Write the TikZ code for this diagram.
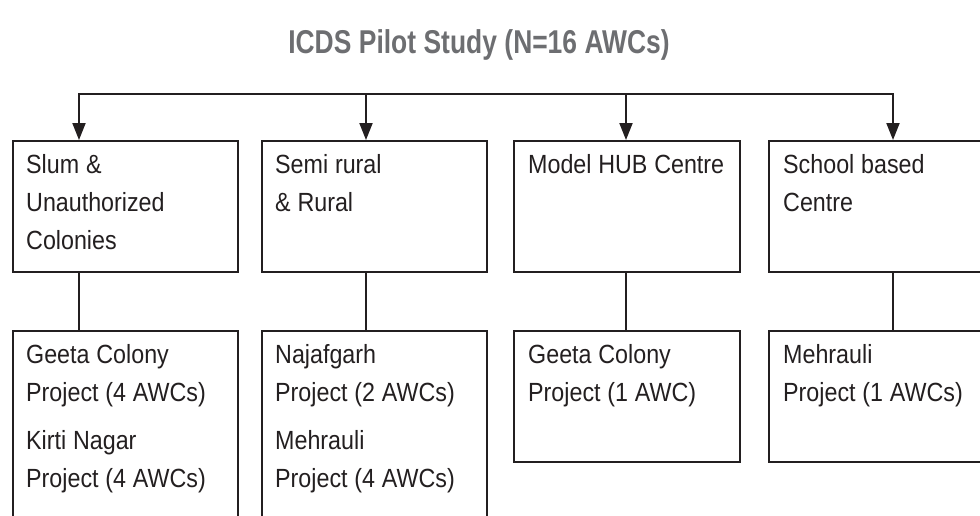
\documentclass[tikz,border=0pt]{standalone}
\usepackage{fontspec}
\setmainfont{Liberation Sans}[FakeStretch=0.885]
\newfontfamily\titlefont{Liberation Sans}[FakeStretch=0.8]
\usetikzlibrary{arrows.meta}
\definecolor{ink}{HTML}{231F20}
\definecolor{titlegray}{HTML}{6D6E71}
\newcommand\boxtextfont{\fontsize{26.3}{38}\selectfont}
\newcommand\tightspaces{\spaceskip 6.8pt plus 2pt minus 1pt\relax}
\newcommand\ttltextfont{\titlefont\bfseries\fontsize{33}{38}\selectfont\spaceskip 7.5pt\relax}
\begin{document}
\begin{tikzpicture}[x=1pt,y=-1pt,
  boxst/.style={draw=ink, line width=2.2pt, inner sep=0pt, anchor=north west, minimum width=#1},
  upper/.style={boxst=#1, minimum height=131pt},
  lower/.style={boxst=#1, minimum height=131pt},
  tall/.style={boxst=#1, minimum height=260pt},
  txt/.style={anchor=base west, inner sep=0pt, text=ink, text width=220pt, align=flush left,
    font=\boxtextfont, execute at begin node=\tightspaces},
  ttl/.style={anchor=base, inner sep=0pt, text=titlegray, font=\ttltextfont},
  conn/.style={draw=ink, line width=2pt},
  arr/.style={conn, -{Triangle[width=13pt,length=17pt]}},
  arrs/.style={conn, line join=miter, {Triangle[width=13pt,length=17pt]}-{Triangle[width=13pt,length=17pt]}}
]
\path[use as bounding box] (0,0) rectangle (980,515);
\clip (0,0) rectangle (980,515);

\node[ttl] (title) at (479,53) {ICDS Pilot Study (N=16 AWCs)};

% upper boxes
\node[upper=225pt] (b1) at (12,140) {};
\node[upper=225pt] (b2) at (261,140) {};
\node[upper=226pt] (b3) at (513,140) {};
\node[upper=260pt] (b4) at (768,140) {};

% lower boxes
\node[tall=225pt] (l1) at (12,330) {};
\node[tall=225pt] (l2) at (261,330) {};
\node[lower=226pt] (l3) at (513,330) {};
\node[lower=260pt] (l4) at (768,330) {};

% texts
\node[txt] (t1) at (26,173) {Slum \&\\Unauthorized\\Colonies};
\node[txt] (t2) at (275,173) {Semi rural\\\& Rural};
\node[txt] (t3) at (528,173) {Model HUB Centre};
\node[txt] (t4) at (783,173) {School based\\Centre};

\node[txt] (u1) at (26,363) {Geeta Colony\\Project (4 AWCs)\\[10pt]Kirti Nagar\\Project (4 AWCs)};
\node[txt] (u2) at (275,363) {Najafgarh\\Project (2 AWCs)\\[10pt]Mehrauli\\Project (4 AWCs)};
\node[txt] (u3) at (528,363) {Geeta Colony\\Project (1 AWC)};
\node[txt] (u4) at (783,363) {Mehrauli\\Project (1 AWCs)};

% connectors
\coordinate (c1) at (79,94);
\coordinate (c2) at (366,94);
\coordinate (c3) at (626,94);
\coordinate (c4) at (893,94);

\draw[arrs] (c1 |- b1.north) -- (c1) -- (c4) -- (c4 |- b4.north);
\draw[arr] (c2) -- (c2 |- b2.north);
\draw[arr] (c3) -- (c3 |- b3.north);

\draw[conn] (c1 |- b1.south) -- (c1 |- l1.north);
\draw[conn] (c2 |- b2.south) -- (c2 |- l2.north);
\draw[conn] (c3 |- b3.south) -- (c3 |- l3.north);
\draw[conn] (c4 |- b4.south) -- (c4 |- l4.north);
\end{tikzpicture}
\end{document}
